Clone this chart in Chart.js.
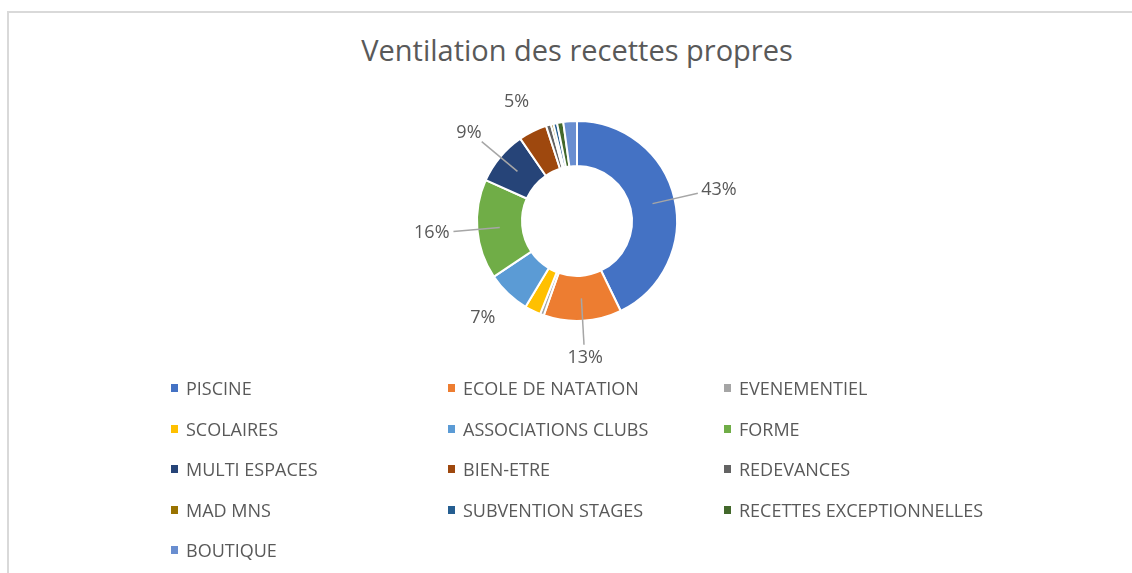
<!DOCTYPE html>
<html lang="fr">
<head>
    <meta charset="UTF-8">
    <title>Ventilation des recettes propres</title>
    <script src="https://cdn.jsdelivr.net/npm/chart.js"></script>
    <style>
        body { margin: 0; background: #fff; font-family: "Open Sans", "Noto Sans", sans-serif; overflow: hidden; }
        #frame { position: absolute; left: 7px; top: 11px; width: 1200px; height: 700px; border: 2px solid #d9d9d9; box-sizing: border-box; }
        #title { position: absolute; left: 0; top: 30px; width: 1154px; text-align: center; font-size: 29px; color: #595959; }
        #wrap { position: absolute; left: 11px; top: 60px; width: 1132px; height: 322px; }
        #legend { position: absolute; left: 171px; top: 376px; display: grid; grid-template-columns: 277px 276px 320px; grid-auto-rows: 40.5px; }
        .item { display: flex; align-items: center; font-size: 18px; color: #595959; height: 24px; white-space: nowrap; }
        .box { width: 7px; height: 8px; margin-right: 8px; }
    </style>
</head>
<body>
    <div id="frame"></div>
    <div id="title">Ventilation des recettes propres</div>
    <div id="wrap"><canvas id="donut"></canvas></div>
    <div id="legend"></div>

    <script>
        const categories = ["PISCINE", "ECOLE DE NATATION", "EVENEMENTIEL", "SCOLAIRES", "ASSOCIATIONS CLUBS", "FORME",
            "MULTI ESPACES", "BIEN-ETRE", "REDEVANCES", "MAD MNS", "SUBVENTION STAGES", "RECETTES EXCEPTIONNELLES", "BOUTIQUE"];
        // share of own revenue, in percent
        const shares = [42.8, 12.6, 0.6, 2.6, 7.0, 16.1, 8.7, 4.6, 0.8, 0.4, 0.6, 1.0, 2.2];
        const colors = ["#4472C4", "#ED7D31", "#A5A5A5", "#FFC000", "#5B9BD5", "#70AD47",
            "#264478", "#9E480E", "#636363", "#997300", "#255E91", "#43682B", "#698ED0"];

        // outside labels with leader lines, like the Excel version
        const outsideLabels = {
            id: "outsideLabels",
            afterDraw(chart) {
                const ctx = chart.ctx;
                const meta = chart.getDatasetMeta(0);
                const total = shares.reduce((a, b) => a + b, 0);
                ctx.save();
                ctx.font = "18px 'Open Sans', 'Noto Sans', sans-serif";
                ctx.fillStyle = "#595959";
                ctx.textAlign = "center";
                ctx.textBaseline = "middle";
                meta.data.forEach((arc, i) => {
                    const pct = shares[i] / total * 100;
                    if (pct < 4) return;
                    const p = arc.getProps(["x", "y", "startAngle", "endAngle", "innerRadius", "outerRadius"], true);
                    const mid = (p.startAngle + p.endAngle) / 2;
                    const dx = Math.cos(mid), dy = Math.sin(mid);
                    const text = Math.round(pct) + "%";
                    const w = ctx.measureText(text).width, h = 18;
                    const r = p.outerRadius + (pct >= 8 ? 28 : 24);
                    const ax = p.x + dx * r, ay = p.y + dy * r;
                    const tx = ax + dx * w / 2, ty = ay + dy * h / 2;
                    if (pct >= 8) {
                        const rm = (p.innerRadius + p.outerRadius) / 2;
                        ctx.strokeStyle = "#a6a6a6";
                        ctx.lineWidth = 1.5;
                        ctx.beginPath();
                        ctx.moveTo(p.x + dx * rm, p.y + dy * rm);
                        ctx.lineTo(p.x + dx * (r - 4), p.y + dy * (r - 4));
                        ctx.stroke();
                    }
                    ctx.fillText(text, tx, ty);
                });
                ctx.restore();
            }
        };

        const chart = new Chart(document.getElementById("donut"), {
            type: "doughnut",
            data: {
                labels: categories,
                datasets: [{
                    data: shares,
                    backgroundColor: colors,
                    borderColor: "#ffffff",
                    borderWidth: 2
                }]
            },
            options: {
                responsive: true,
                maintainAspectRatio: false,
                animation: false,
                cutout: "55%",
                layout: { padding: { top: 60, bottom: 60 } },
                plugins: {
                    legend: { display: false },
                    tooltip: { enabled: false }
                }
            },
            plugins: [outsideLabels]
        });

        // legend in three columns, built from the chart's own labels and colours
        const legend = document.getElementById("legend");
        chart.data.labels.forEach((label, i) => {
            const item = document.createElement("div");
            item.className = "item";
            item.innerHTML = '<span class="box" style="background:' + colors[i] + '"></span>' + label;
            legend.appendChild(item);
        });
    </script>
</body>
</html>
